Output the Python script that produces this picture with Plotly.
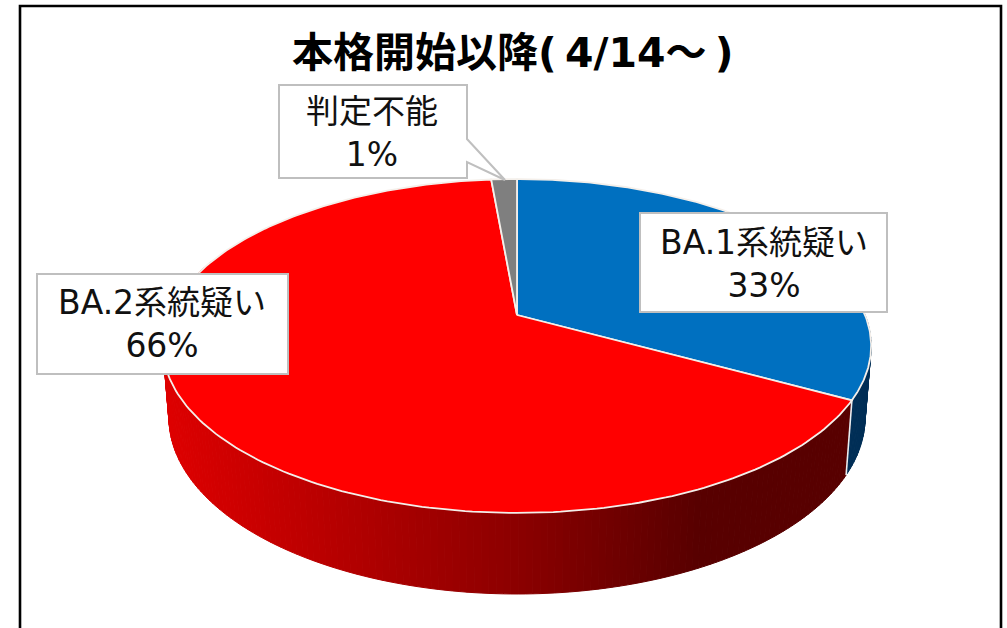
import numpy as np
import plotly.graph_objects as go

categories = ["BA.1系統疑い", "BA.2系統疑い", "判定不能"]
values = [33.0, 65.6, 1.4]
top_colors = ["#0070C0", "#FF0000", "#7F7F7F"]
title_text = "<b>本格開始以降(\u20094/14～\u2009)</b>"

W, H = 1007, 628
FONT = "DejaVu Sans, Noto Sans CJK JP"
CX, CY_TOP, CY_BOT = 517.0, 315.0, 385.0
A_TOP, B_TOP, A_BOT, B_BOT, K = 348.0, 161.2, 342.0, 170.2, 0.1856


def project(theta, a, b, cy):
    u, v = np.sin(theta), np.cos(theta)
    w = 1 + K * v
    return CX + a * u / w, cy - b * v / w


def top(theta):
    return project(theta, A_TOP, B_TOP, CY_TOP)


def bot(theta):
    return project(theta, A_BOT, B_BOT, CY_BOT)


def wall_color(i, x):
    if i == 0:
        return "rgb(0,46,86)"
    r = np.interp(x, [165, 517, 700, 900], [222, 140, 88, 88])
    return f"rgb({int(r)},0,0)"


fig = go.Figure()
edges = np.cumsum([0] + values) / sum(values) * 2 * np.pi
common = dict(mode="lines", hoverinfo="skip", showlegend=False)

# Side wall, one thin strip per degree
for i in range(len(values)):
    a0, a1 = edges[i], edges[i + 1]
    n = max(2, int(np.degrees(a1 - a0)))
    grid = np.linspace(a0, a1, n + 1)
    for t0, t1 in zip(grid[:-1], grid[1:]):
        if np.cos((t0 + t1) / 2) > 0.35:
            continue
        xt, yt = top(np.array([t0, t1]))
        xb, yb = bot(np.array([t1, t0]))
        col = wall_color(i, (xt[0] + xt[1]) / 2)
        fig.add_trace(go.Scatter(
            x=list(xt) + list(xb) + [xt[0]], y=list(yt) + list(yb) + [yt[0]],
            fill="toself", fillcolor=col, line=dict(color=col, width=1), **common))

# Seam between the blue and red walls
sx0, sy0 = top(edges[1])
sx1, sy1 = bot(edges[1])
fig.add_trace(go.Scatter(x=[sx0, sx1], y=[sy0, sy1],
                         line=dict(color="#E8EEF2", width=1.6), **common))

# Top face
for i in range(len(values)):
    th = np.linspace(edges[i], edges[i + 1], 240)
    xs, ys = top(th)
    fig.add_trace(go.Scatter(
        x=[CX] + list(xs) + [CX], y=[CY_TOP] + list(ys) + [CY_TOP],
        fill="toself", fillcolor=top_colors[i],
        line=dict(color="#F4EFEA", width=1.8), **common))

# Frame, open at the bottom
shapes = [dict(type="path", path="M 20 640 L 20 6 L 1001 6 L 1001 640",
               line=dict(color="black", width=2.6), layer="above")]

# Label boxes
BORDER = dict(color="#BFBFBF", width=2)
shapes += [
    dict(type="rect", x0=640, x1=887, y0=213, y1=312, fillcolor="white", line=BORDER, layer="above"),
    dict(type="rect", x0=37, x1=288, y0=274, y1=374, fillcolor="white", line=BORDER, layer="above"),
    dict(type="path",
         path="M 279 85 L 467 85 L 467 139 L 505 180 L 467 162 L 467 178 L 279 178 Z",
         fillcolor="white", line=BORDER, layer="above"),
]


def label(i):
    return f"{categories[i]}<br>{round(values[i])}%"


annotations = [
    dict(x=512, y=53, text=title_text, font=dict(size=41, color="black", family=FONT)),
    dict(x=763.5, y=264, text=label(0), font=dict(size=33, color="#111111", family=FONT)),
    dict(x=162, y=324, text=label(1), font=dict(size=33, color="#111111", family=FONT)),
    dict(x=372, y=133, text=label(2), font=dict(size=33, color="#111111", family=FONT)),
]
for a in annotations:
    a.update(xref="x", yref="y", showarrow=False, xanchor="center", yanchor="middle")

fig.update_layout(
    width=W, height=H, autosize=False,
    margin=dict(l=0, r=0, t=0, b=0),
    paper_bgcolor="white", plot_bgcolor="white",
    xaxis=dict(range=[0, W], visible=False, fixedrange=True),
    yaxis=dict(range=[H, 0], visible=False, fixedrange=True),
    shapes=shapes, annotations=annotations, showlegend=False,
)
fig.write_html(
    "out.html",
    config=dict(displayModeBar=False),
    post_script="document.body.style.margin='0';document.body.style.overflow='hidden';",
)
